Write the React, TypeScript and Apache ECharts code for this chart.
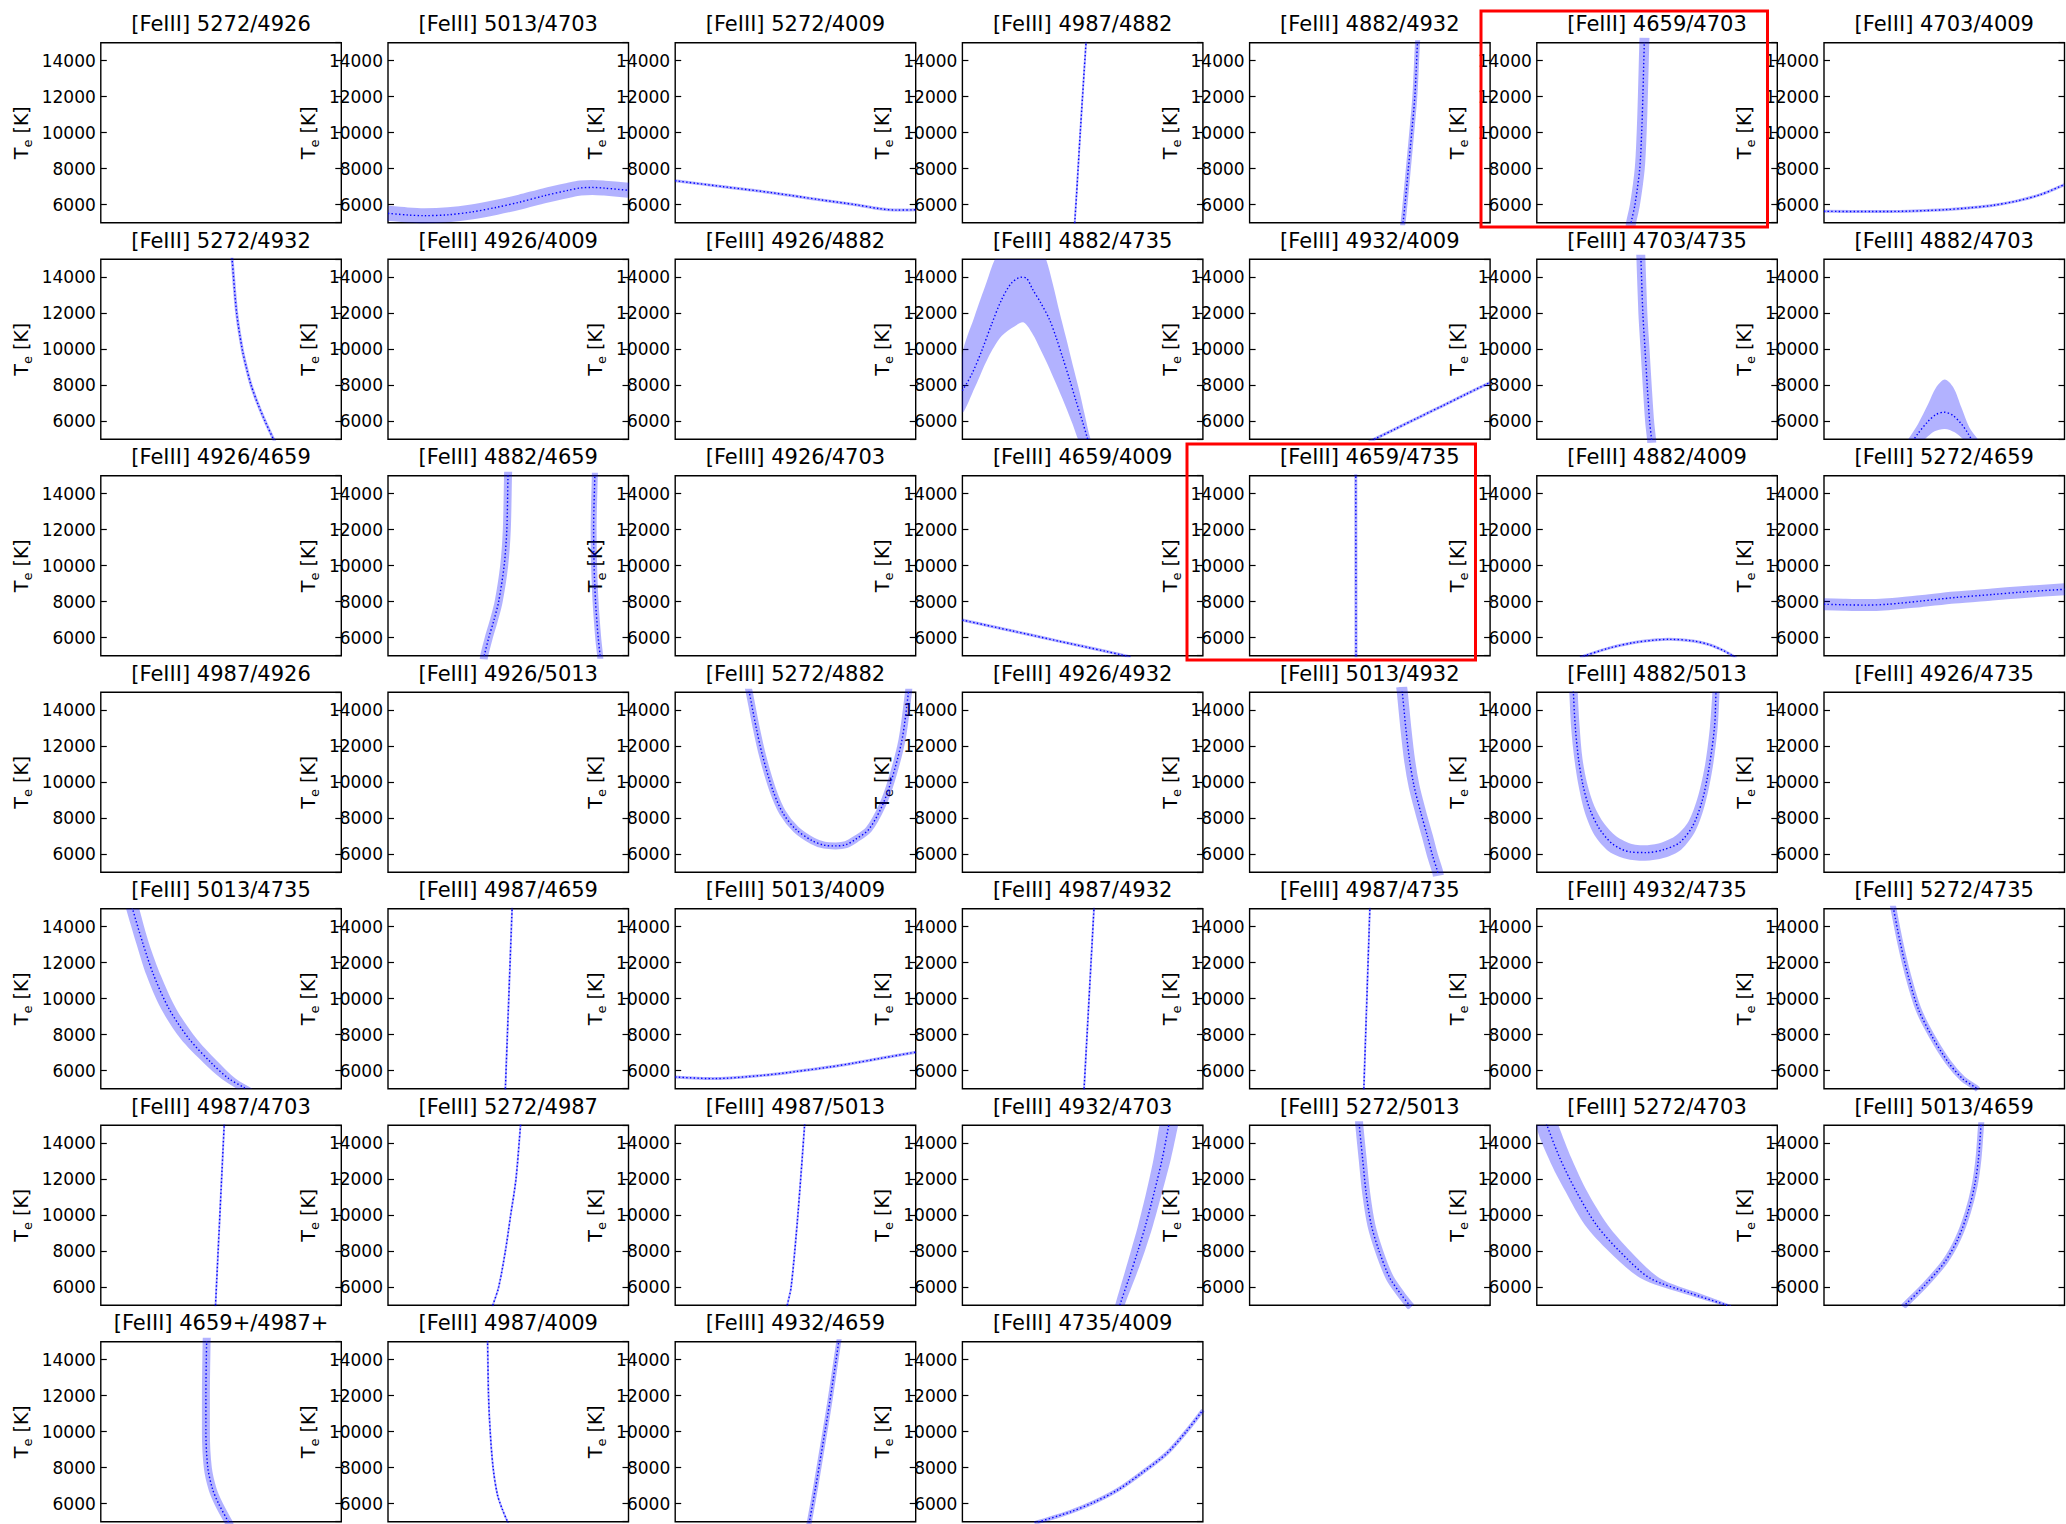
import React, { useEffect, useRef } from 'react';
import * as echarts from 'echarts';

type Pt = [number, number];

const FONT = 'DejaVu Sans';
const LINE_BLUE = '#0000ff';
const BAND_FILL = 'rgba(0, 0, 255, 0.3)';

const TE_MIN = 5000;
const TE_MAX = 15000;

// Each curve is a list of [x, Te] samples; x runs over the (unlabelled)
// diagnostic axis, 0 at the left frame edge and 1 at the right one.
const t5013_4703: Pt[] = [[0, 5520], [0.08, 5430], [0.15, 5390], [0.25, 5440], [0.35, 5600], [0.45, 5850], [0.55, 6150], [0.65, 6500], [0.75, 6800], [0.8, 6930], [0.85, 6960], [0.9, 6920], [1, 6800]];
const t5272_4009: Pt[] = [[0, 7330], [0.2, 7000], [0.4, 6670], [0.6, 6280], [0.75, 6000], [0.85, 5780], [0.92, 5700], [1, 5720]];
const t4987_4882: Pt[] = [[0.462, 4800], [0.467, 5000], [0.49, 10000], [0.514, 15000], [0.516, 15200]];
const t4882_4932: Pt[] = [[0.635, 4800], [0.638, 5000], [0.646, 6000], [0.66, 8000], [0.674, 10000], [0.687, 12000], [0.698, 15000], [0.7, 15300]];
const t4659_4703: Pt[] = [[0.39, 4800], [0.392, 5000], [0.408, 6000], [0.428, 8000], [0.436, 10000], [0.441, 12000], [0.447, 15000], [0.448, 15300]];
const t4703_4009: Pt[] = [[0, 5630], [0.2, 5620], [0.35, 5640], [0.5, 5720], [0.6, 5820], [0.7, 5960], [0.8, 6200], [0.9, 6560], [1, 7120]];

const t5272_4932: Pt[] = [[0.544, 15300], [0.546, 15000], [0.565, 12000], [0.588, 10000], [0.605, 9000], [0.625, 8000], [0.652, 7000], [0.683, 6000], [0.718, 5000], [0.726, 4800]];
const t4882_4735: Pt[] = [[0, 7700], [0.039, 8610], [0.08, 9900], [0.121, 11370], [0.163, 12750], [0.204, 13670], [0.245, 14000], [0.266, 13950], [0.293, 13300], [0.326, 12570], [0.362, 11650], [0.39, 10640], [0.417, 9530], [0.445, 8340], [0.472, 7140], [0.5, 5950], [0.519, 5080], [0.525, 4800]];
const t4882_4735_outer: Pt[] = [[0, 9700], [0.05, 11800], [0.1, 13700], [0.135, 15000], [0.2, 16500], [0.3, 16500], [0.348, 15000], [0.376, 13620], [0.403, 12110], [0.431, 10630], [0.458, 9160], [0.486, 7690], [0.508, 6400], [0.533, 5000], [0.55, 4600]];
const t4882_4735_inner: Pt[] = [[0, 6500], [0.052, 7880], [0.107, 9530], [0.163, 10730], [0.218, 11280], [0.255, 11480], [0.293, 10820], [0.321, 10080], [0.354, 9160], [0.39, 8060], [0.425, 6960], [0.458, 5850], [0.481, 5000], [0.5, 4500]];
const t4932_4009: Pt[] = [[0.49, 4800], [0.519, 5000], [0.6, 5530], [0.7, 6190], [0.8, 6840], [0.9, 7500], [1, 8150]];
const t4703_4735: Pt[] = [[0.432, 15300], [0.433, 15000], [0.441, 12000], [0.45, 10000], [0.459, 8000], [0.469, 6000], [0.477, 5000], [0.478, 4800]];
const t4882_4703: Pt[] = [[0.36, 4700], [0.39, 5300], [0.43, 5950], [0.465, 6370], [0.5, 6500], [0.535, 6330], [0.57, 5870], [0.6, 5300], [0.62, 4800]];
const t4882_4703_outer: Pt[] = [[0.33, 4600], [0.35, 5000], [0.391, 5850], [0.433, 6950], [0.466, 7870], [0.502, 8310], [0.538, 7870], [0.571, 6770], [0.604, 5670], [0.64, 5000], [0.66, 4600]];
const t4882_4703_inner: Pt[] = [[0.38, 4500], [0.419, 5000], [0.46, 5440], [0.502, 5570], [0.543, 5390], [0.579, 5000], [0.62, 4500]];

const t4882_4659_a: Pt[] = [[0.398, 4800], [0.4, 5000], [0.419, 6000], [0.441, 7000], [0.46, 8000], [0.483, 10000], [0.494, 12000], [0.499, 15000], [0.5, 15300]];
const t4882_4659_b: Pt[] = [[0.883, 4800], [0.882, 5000], [0.874, 6000], [0.863, 8000], [0.857, 10000], [0.855, 12000], [0.86, 15000], [0.861, 15300]];
const t4659_4009: Pt[] = [[0, 6980], [0.2, 6400], [0.4, 5810], [0.6, 5230], [0.66, 5050], [0.7, 4920]];
const t4659_4735: Pt[] = [[0.4425, 4800], [0.442, 10000], [0.4415, 15200]];
const t4882_4009: Pt[] = [[0.18, 4900], [0.2, 5000], [0.3, 5420], [0.4, 5720], [0.5, 5880], [0.55, 5910], [0.65, 5820], [0.72, 5600], [0.78, 5260], [0.82, 4950], [0.83, 4880]];
const t5272_4659: Pt[] = [[0, 7860], [0.08, 7830], [0.171, 7810], [0.267, 7860], [0.4, 8030], [0.543, 8230], [0.7, 8400], [0.819, 8530], [1, 8690]];

const t5272_4882: Pt[] = [[0.303, 15300], [0.308, 15000], [0.336, 13080], [0.364, 11430], [0.405, 9590], [0.447, 8300], [0.502, 7380], [0.571, 6740], [0.62, 6500], [0.667, 6460], [0.71, 6530], [0.75, 6830], [0.805, 7380], [0.86, 8670], [0.9, 10140], [0.943, 12350], [0.97, 15000], [0.972, 15300]];
const t5013_4932: Pt[] = [[0.632, 15300], [0.635, 15000], [0.649, 13080], [0.665, 11240], [0.684, 9770], [0.712, 8300], [0.739, 7010], [0.761, 5910], [0.781, 5060], [0.785, 4800]];
const t4882_5013: Pt[] = [[0.151, 15300], [0.152, 15000], [0.16, 13080], [0.174, 11240], [0.193, 9770], [0.221, 8480], [0.262, 7380], [0.317, 6550], [0.386, 6130], [0.455, 6090], [0.524, 6240], [0.593, 6640], [0.648, 7560], [0.689, 9030], [0.717, 10870], [0.739, 13080], [0.745, 15000], [0.746, 15300]];
const t4882_5013_outer: Pt[] = [[0.134, 15300], [0.135, 15000], [0.143, 13000], [0.157, 11200], [0.175, 9700], [0.2, 8300], [0.24, 7050], [0.3, 6150], [0.37, 5750], [0.45, 5630], [0.53, 5800], [0.6, 6250], [0.66, 7300], [0.7, 8800], [0.73, 10700], [0.752, 13000], [0.76, 15000], [0.761, 15300]];
const t4882_5013_inner: Pt[] = [[0.169, 15300], [0.17, 15000], [0.178, 13100], [0.19, 11300], [0.21, 9900], [0.24, 8650], [0.28, 7700], [0.33, 7000], [0.4, 6550], [0.46, 6500], [0.52, 6650], [0.58, 7050], [0.63, 7800], [0.67, 9200], [0.7, 11000], [0.72, 13100], [0.73, 15000], [0.731, 15300]];

const t5013_4735: Pt[] = [[0.128, 15300], [0.132, 15000], [0.174, 13115], [0.221, 11270], [0.284, 9430], [0.367, 7770], [0.463, 6390], [0.532, 5560], [0.596, 5060], [0.605, 4950]];
const t5013_4735_left: Pt[] = [[0.1, 15300], [0.105, 15000], [0.147, 13100], [0.19, 11300], [0.25, 9450], [0.33, 7800], [0.43, 6400], [0.5, 5570], [0.565, 5000], [0.58, 4850]];
const t5013_4735_right: Pt[] = [[0.155, 15300], [0.16, 15000], [0.2, 13100], [0.25, 11270], [0.315, 9400], [0.4, 7750], [0.495, 6380], [0.56, 5560], [0.63, 5000], [0.64, 4900]];
const t4987_4659: Pt[] = [[0.487, 4800], [0.488, 5000], [0.516, 15000], [0.517, 15300]];
const t5013_4009: Pt[] = [[0, 5650], [0.157, 5560], [0.364, 5740], [0.5, 5950], [0.64, 6200], [0.75, 6440], [0.86, 6700], [1, 7030]];
const t4987_4932: Pt[] = [[0.505, 4800], [0.506, 5000], [0.547, 15000], [0.548, 15300]];
const t4987_4735: Pt[] = [[0.474, 4800], [0.475, 5000], [0.5, 15000], [0.501, 15300]];
const t5272_4735: Pt[] = [[0.285, 15300], [0.289, 15000], [0.317, 13115], [0.35, 11270], [0.392, 9430], [0.447, 7955], [0.516, 6480], [0.576, 5560], [0.631, 5060], [0.64, 4950]];

const t4987_4703: Pt[] = [[0.476, 4800], [0.477, 5000], [0.513, 15000], [0.514, 15300]];
const t5272_4987: Pt[] = [[0.432, 4800], [0.436, 5000], [0.46, 6000], [0.488, 8000], [0.51, 10000], [0.532, 12000], [0.551, 15000], [0.552, 15300]];
const t4987_5013: Pt[] = [[0.465, 4800], [0.466, 5000], [0.482, 6000], [0.51, 10000], [0.538, 15000], [0.539, 15300]];
const t4932_4703: Pt[] = [[0.652, 4800], [0.657, 5100], [0.693, 6510], [0.729, 7990], [0.762, 9460], [0.798, 11300], [0.831, 13140], [0.858, 15000], [0.862, 15300]];
const t4932_4703_left: Pt[] = [[0.632, 4800], [0.637, 5100], [0.668, 6510], [0.7, 7990], [0.731, 9460], [0.765, 11300], [0.795, 13140], [0.819, 15000], [0.823, 15300]];
const t4932_4703_right: Pt[] = [[0.672, 4800], [0.677, 5100], [0.718, 6510], [0.758, 7990], [0.793, 9460], [0.831, 11300], [0.867, 13140], [0.897, 15000], [0.901, 15300]];
const t5272_5013: Pt[] = [[0.455, 15300], [0.456, 15000], [0.47, 13136], [0.484, 11297], [0.506, 9457], [0.539, 7986], [0.583, 6515], [0.63, 5595], [0.665, 5000], [0.672, 4900]];
const t5272_4703: Pt[] = [[0.035, 15300], [0.042, 15000], [0.097, 13136], [0.165, 11297], [0.248, 9457], [0.345, 7986], [0.469, 6515], [0.635, 5686], [0.79, 5000], [0.81, 4920]];
const t5272_4703_left: Pt[] = [[0, 15150], [0.05, 13136], [0.12, 11297], [0.2, 9457], [0.3, 7986], [0.43, 6515], [0.6, 5686], [0.77, 5000], [0.79, 4920]];
const t5272_4703_right: Pt[] = [[0.085, 15300], [0.09, 15000], [0.145, 13136], [0.21, 11297], [0.295, 9457], [0.39, 7986], [0.51, 6515], [0.67, 5686], [0.81, 5000], [0.83, 4920]];
const t5013_4659: Pt[] = [[0.33, 4900], [0.336, 5000], [0.419, 6110], [0.502, 7400], [0.557, 8690], [0.598, 10160], [0.626, 11630], [0.642, 13100], [0.653, 15000], [0.655, 15300]];

const t4659p_4987p: Pt[] = [[0.441, 15300], [0.44, 15000], [0.437, 12000], [0.437, 10000], [0.445, 8000], [0.465, 6800], [0.49, 6000], [0.53, 5000], [0.538, 4800]];
const t4987_4009: Pt[] = [[0.413, 15300], [0.414, 15000], [0.418, 12000], [0.425, 10000], [0.437, 8000], [0.455, 6500], [0.475, 5700], [0.497, 5000], [0.502, 4850]];
const t4932_4659: Pt[] = [[0.553, 4700], [0.558, 5000], [0.585, 7000], [0.61, 9000], [0.635, 11000], [0.658, 13000], [0.68, 15000], [0.684, 15300]];
const t4735_4009: Pt[] = [[0.3, 4920], [0.32, 5000], [0.45, 5550], [0.55, 6100], [0.65, 6800], [0.75, 7750], [0.85, 8800], [0.93, 10000], [1, 11200]];

interface CurveDef {
  mid: Pt[];
  // either a constant-width band drawn along the curve, or two explicit band edges
  width?: number;
  edges?: [Pt[], Pt[]];
}
interface PanelDef {
  title: string;
  curves: CurveDef[];
}

const PANELS: PanelDef[] = [
  { title: '[FeIII] 5272/4926', curves: [] },
  { title: '[FeIII] 5013/4703', curves: [{ mid: t5013_4703, width: 15 }] },
  { title: '[FeIII] 5272/4009', curves: [{ mid: t5272_4009, width: 3 }] },
  { title: '[FeIII] 4987/4882', curves: [{ mid: t4987_4882, width: 2 }] },
  { title: '[FeIII] 4882/4932', curves: [{ mid: t4882_4932, width: 5 }] },
  { title: '[FeIII] 4659/4703', curves: [{ mid: t4659_4703, width: 10 }] },
  { title: '[FeIII] 4703/4009', curves: [{ mid: t4703_4009, width: 3 }] },

  { title: '[FeIII] 5272/4932', curves: [{ mid: t5272_4932, width: 3 }] },
  { title: '[FeIII] 4926/4009', curves: [] },
  { title: '[FeIII] 4926/4882', curves: [] },
  { title: '[FeIII] 4882/4735', curves: [{ mid: t4882_4735, edges: [t4882_4735_outer, t4882_4735_inner] }] },
  { title: '[FeIII] 4932/4009', curves: [{ mid: t4932_4009, width: 3 }] },
  { title: '[FeIII] 4703/4735', curves: [{ mid: t4703_4735, width: 9 }] },
  { title: '[FeIII] 4882/4703', curves: [{ mid: t4882_4703, edges: [t4882_4703_outer, t4882_4703_inner] }] },

  { title: '[FeIII] 4926/4659', curves: [] },
  { title: '[FeIII] 4882/4659', curves: [{ mid: t4882_4659_a, width: 8 }, { mid: t4882_4659_b, width: 6 }] },
  { title: '[FeIII] 4926/4703', curves: [] },
  { title: '[FeIII] 4659/4009', curves: [{ mid: t4659_4009, width: 3 }] },
  { title: '[FeIII] 4659/4735', curves: [{ mid: t4659_4735, width: 3 }] },
  { title: '[FeIII] 4882/4009', curves: [{ mid: t4882_4009, width: 3 }] },
  { title: '[FeIII] 5272/4659', curves: [{ mid: t5272_4659, width: 12 }] },

  { title: '[FeIII] 4987/4926', curves: [] },
  { title: '[FeIII] 4926/5013', curves: [] },
  { title: '[FeIII] 5272/4882', curves: [{ mid: t5272_4882, width: 7 }] },
  { title: '[FeIII] 4926/4932', curves: [] },
  { title: '[FeIII] 5013/4932', curves: [{ mid: t5013_4932, width: 11 }] },
  { title: '[FeIII] 4882/5013', curves: [{ mid: t4882_5013, edges: [t4882_5013_outer, t4882_5013_inner] }] },
  { title: '[FeIII] 4926/4735', curves: [] },

  { title: '[FeIII] 5013/4735', curves: [{ mid: t5013_4735, edges: [t5013_4735_left, t5013_4735_right] }] },
  { title: '[FeIII] 4987/4659', curves: [{ mid: t4987_4659, width: 2 }] },
  { title: '[FeIII] 5013/4009', curves: [{ mid: t5013_4009, width: 3 }] },
  { title: '[FeIII] 4987/4932', curves: [{ mid: t4987_4932, width: 2 }] },
  { title: '[FeIII] 4987/4735', curves: [{ mid: t4987_4735, width: 2 }] },
  { title: '[FeIII] 4932/4735', curves: [] },
  { title: '[FeIII] 5272/4735', curves: [{ mid: t5272_4735, width: 6 }] },

  { title: '[FeIII] 4987/4703', curves: [{ mid: t4987_4703, width: 2 }] },
  { title: '[FeIII] 5272/4987', curves: [{ mid: t5272_4987, width: 2 }] },
  { title: '[FeIII] 4987/5013', curves: [{ mid: t4987_5013, width: 2 }] },
  { title: '[FeIII] 4932/4703', curves: [{ mid: t4932_4703, edges: [t4932_4703_left, t4932_4703_right] }] },
  { title: '[FeIII] 5272/5013', curves: [{ mid: t5272_5013, width: 8 }] },
  { title: '[FeIII] 5272/4703', curves: [{ mid: t5272_4703, edges: [t5272_4703_left, t5272_4703_right] }] },
  { title: '[FeIII] 5013/4659', curves: [{ mid: t5013_4659, width: 6 }] },

  { title: '[FeIII] 4659+/4987+', curves: [{ mid: t4659p_4987p, width: 8 }] },
  { title: '[FeIII] 4987/4009', curves: [{ mid: t4987_4009, width: 2 }] },
  { title: '[FeIII] 4932/4659', curves: [{ mid: t4932_4659, width: 5 }] },
  { title: '[FeIII] 4735/4009', curves: [{ mid: t4735_4009, width: 4 }] },
];

// Panel layout (pixels)
const NCOLS = 7;
const GRID_LEFT = 100.8;
const COL_STEP = 287.2;
const GRID_W = 240.5;
const GRID_TOP = 42.7;
const ROW_STEP = 216.5;
const GRID_H = 180;
const SMOOTH = 0.3;

function buildOption(): echarts.EChartsOption {
  const grid: any[] = [];
  const xAxis: any[] = [];
  const yAxis: any[] = [];
  const series: any[] = [];
  const graphic: any[] = [];

  PANELS.forEach((panel, i) => {
    const row = Math.floor(i / NCOLS);
    const col = i % NCOLS;
    const left = GRID_LEFT + col * COL_STEP;
    const top = GRID_TOP + row * ROW_STEP;

    grid.push({
      left, top, width: GRID_W, height: GRID_H,
      show: true, borderColor: '#000', borderWidth: 1.4, backgroundColor: 'transparent',
    });
    xAxis.push({ gridIndex: i, type: 'value', min: 0, max: 1, show: false });
    const tickStyle = { inside: true, length: 6, lineStyle: { color: '#000', width: 1.2 } };
    yAxis.push({
      gridIndex: i, type: 'value', position: 'left', min: TE_MIN, max: TE_MAX, splitNumber: 5,
      axisLine: { show: false }, splitLine: { show: false }, axisTick: tickStyle,
      axisLabel: {
        showMinLabel: false, showMaxLabel: false, color: '#000', fontFamily: FONT, fontSize: 17, margin: 5,
        formatter: (v: number) => String(v),
      },
      name: '{t|T}{s|e}{t| [K]}', nameLocation: 'middle', nameRotate: 90, nameGap: 67,
      nameTextStyle: {
        color: '#000', fontFamily: FONT, fontSize: 19,
        rich: {
          t: { color: '#000', fontFamily: FONT, fontSize: 19, lineHeight: 26 },
          s: { color: '#000', fontFamily: FONT, fontSize: 13, lineHeight: 14, verticalAlign: 'bottom' },
        },
      },
    });
    yAxis.push({
      gridIndex: i, type: 'value', position: 'right', min: TE_MIN, max: TE_MAX, splitNumber: 5,
      axisLine: { show: false }, splitLine: { show: false }, axisTick: tickStyle, axisLabel: { show: false },
    });

    graphic.push({
      type: 'text', x: left + GRID_W / 2, y: top - 18.5, silent: true,
      style: {
        text: panel.title, fill: '#000', fontFamily: FONT, fontSize: 21,
        align: 'center', verticalAlign: 'middle', textAlign: 'center', textVerticalAlign: 'middle',
      },
    });

    panel.curves.forEach((curve) => {
      if (curve.edges) {
        const polygon: Pt[] = curve.edges[0].concat(curve.edges[1].slice().reverse());
        series.push({
          type: 'custom', xAxisIndex: i, yAxisIndex: 2 * i, clip: true, silent: true, z: 1,
          data: polygon,
          renderItem: (params: any, api: any) => {
            if (params.dataIndex !== 0) return null;
            return {
              type: 'polygon',
              shape: { points: polygon.map((p) => api.coord(p)), smooth: SMOOTH },
              style: { fill: BAND_FILL, stroke: 'none' },
            };
          },
        });
      } else if (curve.width) {
        series.push({
          type: 'line', xAxisIndex: i, yAxisIndex: 2 * i, data: curve.mid, showSymbol: false, silent: true, z: 1,
          smooth: SMOOTH,
          lineStyle: { color: BAND_FILL, width: curve.width, cap: 'butt', join: 'round' },
        });
      }
      series.push({
        type: 'line', xAxisIndex: i, yAxisIndex: 2 * i, data: curve.mid, showSymbol: false, silent: true, z: 3,
        smooth: SMOOTH,
        lineStyle: { color: LINE_BLUE, width: 1.4, type: [1.4, 2.3] },
      });
    });
  });

  // red frames around two of the panels
  const frames = [
    { x: 1481, y: 11, width: 286.5, height: 216 },
    { x: 1187, y: 444, width: 288.5, height: 216 },
  ];
  frames.forEach((f) => {
    graphic.push({
      type: 'rect', shape: f, silent: true, z: 100,
      style: { fill: 'none', stroke: '#ff0000', lineWidth: 3 },
    });
  });

  return {
    animation: false,
    backgroundColor: '#ffffff',
    grid, xAxis, yAxis, series, graphic,
  };
}

export default function App() {
  const ref = useRef<HTMLDivElement>(null);
  useEffect(() => {
    const chart = echarts.init(ref.current!, null, { renderer: 'svg' });
    chart.setOption(buildOption());
    return () => chart.dispose();
  }, []);
  return (
    <div
      ref={ref}
      style={{ position: 'absolute', left: 0, top: 0, width: 2066, height: 1524, background: '#fff' }}
    />
  );
}
